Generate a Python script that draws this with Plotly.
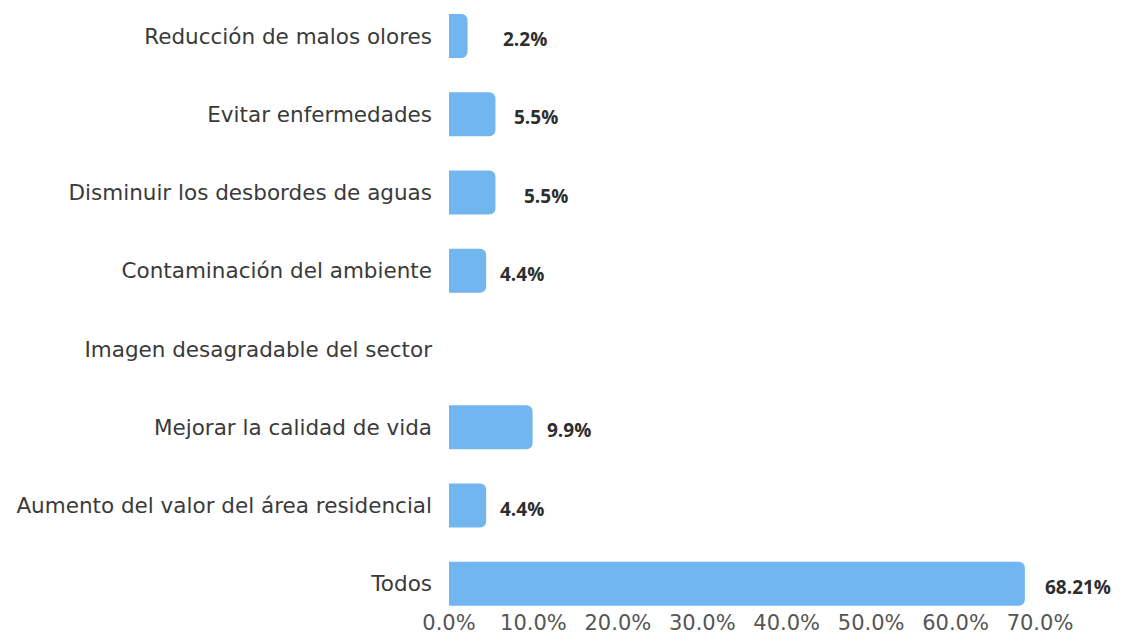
import plotly.graph_objects as go

categories = [
    "Reducción de malos olores",
    "Evitar enfermedades",
    "Disminuir los desbordes de aguas",
    "Contaminación del ambiente",
    "Imagen desagradable del sector",
    "Mejorar la calidad de vida",
    "Aumento del valor del área residencial",
    "Todos",
]
values = [2.2, 5.5, 5.5, 4.4, 0, 9.9, 4.4, 68.21]
value_labels = ["2.2%", "5.5%", "5.5%", "4.4%", "", "9.9%", "4.4%", "68.21%"]
tick_vals = [0, 10, 20, 30, 40, 50, 60, 70]
tick_text = ["0.0%", "10.0%", "20.0%", "30.0%", "40.0%", "50.0%", "60.0%", "70.0%"]

# pixel offsets of the value labels past the bar end (as seen in the source)
label_shift = [33, 17, 27, 12, 0, 12, 12, 18]

fig = go.Figure()
fig.add_trace(go.Bar(
    x=values,
    y=categories,
    orientation="h",
    width=0.56,
    marker=dict(color="#72b6f0", cornerradius=6, line=dict(width=0)),
    hoverinfo="x+y",
))

for cat, val, txt, sh in zip(categories, values, value_labels, label_shift):
    if not txt:
        continue
    fig.add_annotation(
        x=val, y=cat, text=txt, showarrow=False,
        xanchor="left", yanchor="middle", xshift=sh, yshift=-3,
        font=dict(family="Open Sans", size=19, color="#2e2e2e", weight="bold"),
    )

# the page body adds an 8px margin, so the figure is smaller than the window
fig.update_layout(
    width=1114, height=633,
    margin=dict(l=441, r=82, t=0, b=33),
    paper_bgcolor="white", plot_bgcolor="white",
    showlegend=False,
    font=dict(family="DejaVu Sans, sans-serif", size=21, color="#444"),
)
fig.update_xaxes(
    range=[0, 70], tickvals=tick_vals, ticktext=tick_text,
    showgrid=False, zeroline=False, showline=False,
    automargin=False,
    tickfont=dict(family="DejaVu Sans", size=21, color="#555"),
)
fig.update_yaxes(
    categoryorder="array", categoryarray=categories,
    range=[7.31, -0.358],
    showgrid=False, zeroline=False, showline=False,
    automargin=False,
    ticklabelstandoff=16,
    tickfont=dict(family="DejaVu Sans", size=21.5, color="#3a3a3a"),
)

fig.write_html("out.html")
